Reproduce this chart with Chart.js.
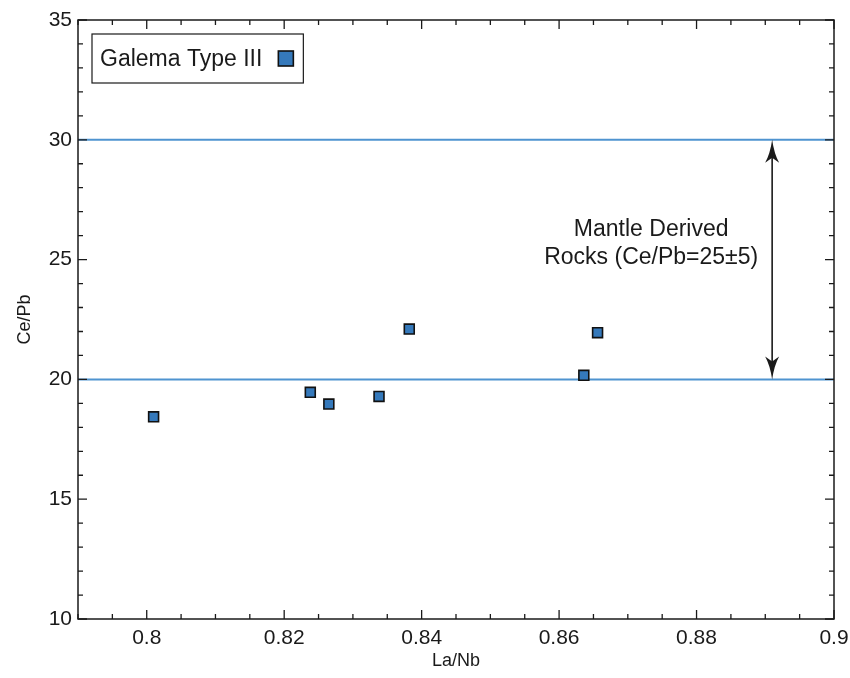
<!DOCTYPE html>
<html>
<head>
<meta charset="utf-8">
<script src="https://cdn.jsdelivr.net/npm/chart.js@4.4.1/dist/chart.umd.min.js"></script>
<style>
  html, body { margin: 0; padding: 0; background: #fff; }
  #wrap { width: 850px; height: 678px; }
</style>
</head>
<body>
<div id="wrap"><canvas id="ceChart" width="850" height="678"></canvas></div>
<script>
// Galema Type III samples
const laNb = [0.8010, 0.8238, 0.8265, 0.8338, 0.8382, 0.8636, 0.8656];
const cePb = [18.44, 19.46, 18.97, 19.29, 22.10, 20.17, 21.95];

// mantle derived rocks band, Ce/Pb = 25 +/- 5
const mantleLow = 20;
const mantleHigh = 30;
const arrowX = 0.891;

// axes
const xMin = 0.79, xMax = 0.9, xMinor = 0.005;
const yMin = 10, yMax = 35, yMinor = 1;
const xTickLabels = ['0.8', '0.82', '0.84', '0.86', '0.88', '0.9'];
const yTickLabels = ['10', '15', '20', '25', '30', '35'];

const FONT = '"Liberation Sans", Arial, Helvetica, sans-serif';
const INK = '#1a1a1a';
const BAND_BLUE = '#4f94d0';
const MARKER_BLUE = '#3579bb';

function labelFor(list, v) {
    const hit = list.find(l => Math.abs(parseFloat(l) - v) < 1e-6);
    return hit === undefined ? '' : hit;
}
function isMajor(list, v) {
    return labelFor(list, v) !== '';
}

// frame with inward ticks on all four sides
const frameTicks = {
    id: 'frameTicks',
    afterDraw(chart) {
        const { ctx, chartArea: a, scales } = chart;
        const xs = scales.x, ys = scales.y;
        ctx.save();
        ctx.strokeStyle = INK;
        ctx.lineWidth = 1.5;
        ctx.strokeRect(a.left, a.top, a.right - a.left, a.bottom - a.top);
        ctx.lineWidth = 1.3;
        ctx.beginPath();
        xs.ticks.forEach(t => {
            const px = xs.getPixelForValue(t.value);
            const len = isMajor(xTickLabels, t.value) ? 9 : 5;
            ctx.moveTo(px, a.bottom); ctx.lineTo(px, a.bottom - len);
            ctx.moveTo(px, a.top); ctx.lineTo(px, a.top + len);
        });
        ys.ticks.forEach(t => {
            const py = ys.getPixelForValue(t.value);
            const len = isMajor(yTickLabels, t.value) ? 9 : 5;
            ctx.moveTo(a.left, py); ctx.lineTo(a.left + len, py);
            ctx.moveTo(a.right, py); ctx.lineTo(a.right - len, py);
        });
        ctx.stroke();
        ctx.restore();
    }
};

// double arrow + label for the mantle range, plus the boxed legend
const annotations = {
    id: 'annotations',
    afterDatasetsDraw(chart) {
        const { ctx, chartArea: a, scales } = chart;
        const xs = scales.x, ys = scales.y;
        ctx.save();

        // arrow
        const ax = xs.getPixelForValue(arrowX);
        const yTop = ys.getPixelForValue(mantleHigh);
        const yBot = ys.getPixelForValue(mantleLow);
        ctx.strokeStyle = INK;
        ctx.fillStyle = INK;
        ctx.lineWidth = 1.6;
        ctx.beginPath();
        ctx.moveTo(ax, yTop + 14);
        ctx.lineTo(ax, yBot - 14);
        ctx.stroke();
        function head(tipY, dir) {
            ctx.beginPath();
            ctx.moveTo(ax, tipY);
            ctx.quadraticCurveTo(ax - 2, tipY + dir * 14, ax - 7, tipY + dir * 23);
            ctx.lineTo(ax, tipY + dir * 18);
            ctx.lineTo(ax + 7, tipY + dir * 23);
            ctx.quadraticCurveTo(ax + 2, tipY + dir * 14, ax, tipY);
            ctx.closePath();
            ctx.fill();
        }
        head(yTop, 1);
        head(yBot, -1);

        // label
        ctx.font = '23px ' + FONT;
        ctx.textAlign = 'center';
        ctx.textBaseline = 'middle';
        const tx = xs.getPixelForValue(0.8734);
        const ty = ys.getPixelForValue(25.65);
        ctx.fillText('Mantle Derived', tx, ty - 14);
        ctx.fillText('Rocks (Ce/Pb=25\u00b15)', tx, ty + 14);

        // legend box
        const ds = chart.data.datasets[0];
        ctx.font = '23px ' + FONT;
        const tw = ctx.measureText(ds.label).width;
        const bx = a.left + 14, by = a.top + 14, bh = 49;
        const mk = 15;
        const bw = 8 + tw + 16 + mk + 10;
        ctx.fillStyle = '#fff';
        ctx.fillRect(bx, by, bw, bh);
        ctx.lineWidth = 1.2;
        ctx.strokeStyle = INK;
        ctx.strokeRect(bx, by, bw, bh);
        ctx.fillStyle = INK;
        ctx.textAlign = 'left';
        ctx.fillText(ds.label, bx + 8, by + bh / 2 + 1);
        const mx = bx + 8 + tw + 16;
        ctx.fillStyle = MARKER_BLUE;
        ctx.fillRect(mx, by + bh / 2 - mk / 2, mk, mk);
        ctx.lineWidth = 1.6;
        ctx.strokeStyle = '#111';
        ctx.strokeRect(mx, by + bh / 2 - mk / 2, mk, mk);
        ctx.restore();
    }
};

const points = laNb.map((v, i) => ({ x: v, y: cePb[i] }));

new Chart(document.getElementById('ceChart').getContext('2d'), {
    type: 'scatter',
    data: {
        datasets: [{
            label: 'Galema Type III',
            data: points,
            pointStyle: 'rect',
            pointRadius: 7,
            pointBackgroundColor: MARKER_BLUE,
            pointBorderColor: '#111',
            pointBorderWidth: 1.6,
            order: 0
        }, {
            type: 'line',
            label: 'upper',
            data: [{ x: xMin, y: mantleHigh }, { x: xMax, y: mantleHigh }],
            borderColor: BAND_BLUE,
            borderWidth: 2,
            pointRadius: 0,
            fill: false,
            order: 1
        }, {
            type: 'line',
            label: 'lower',
            data: [{ x: xMin, y: mantleLow }, { x: xMax, y: mantleLow }],
            borderColor: BAND_BLUE,
            borderWidth: 2,
            pointRadius: 0,
            fill: false,
            order: 1
        }]
    },
    options: {
        responsive: false,
        animation: false,
        layout: { padding: { top: 20, right: 16, left: 0, bottom: 0 } },
        plugins: {
            legend: { display: false },
            tooltip: { enabled: false }
        },
        scales: {
            x: {
                type: 'linear',
                min: xMin,
                max: xMax,
                afterFit: s => { s.height = 59; s.paddingRight = 0; s.paddingLeft = 0; },
                grid: { display: false, drawTicks: false },
                border: { display: false },
                ticks: {
                    stepSize: xMinor,
                    autoSkip: false,
                    maxRotation: 0,
                    padding: 7,
                    color: INK,
                    font: { family: FONT, size: 21 },
                    callback: v => labelFor(xTickLabels, v)
                },
                title: {
                    display: true,
                    text: 'La/Nb',
                    color: INK,
                    font: { family: FONT, size: 18 },
                    padding: { top: 0, bottom: 6 }
                }
            },
            y: {
                type: 'linear',
                min: yMin,
                max: yMax,
                afterFit: s => { s.width = 78; },
                grid: { display: false, drawTicks: false },
                border: { display: false },
                ticks: {
                    stepSize: yMinor,
                    autoSkip: false,
                    padding: 6,
                    color: INK,
                    font: { family: FONT, size: 21 },
                    callback: v => labelFor(yTickLabels, v)
                },
                title: {
                    display: true,
                    text: 'Ce/Pb',
                    color: INK,
                    font: { family: FONT, size: 18 },
                    padding: { top: 14, bottom: 0 }
                }
            }
        }
    },
    plugins: [frameTicks, annotations]
});
</script>
</body>
</html>
